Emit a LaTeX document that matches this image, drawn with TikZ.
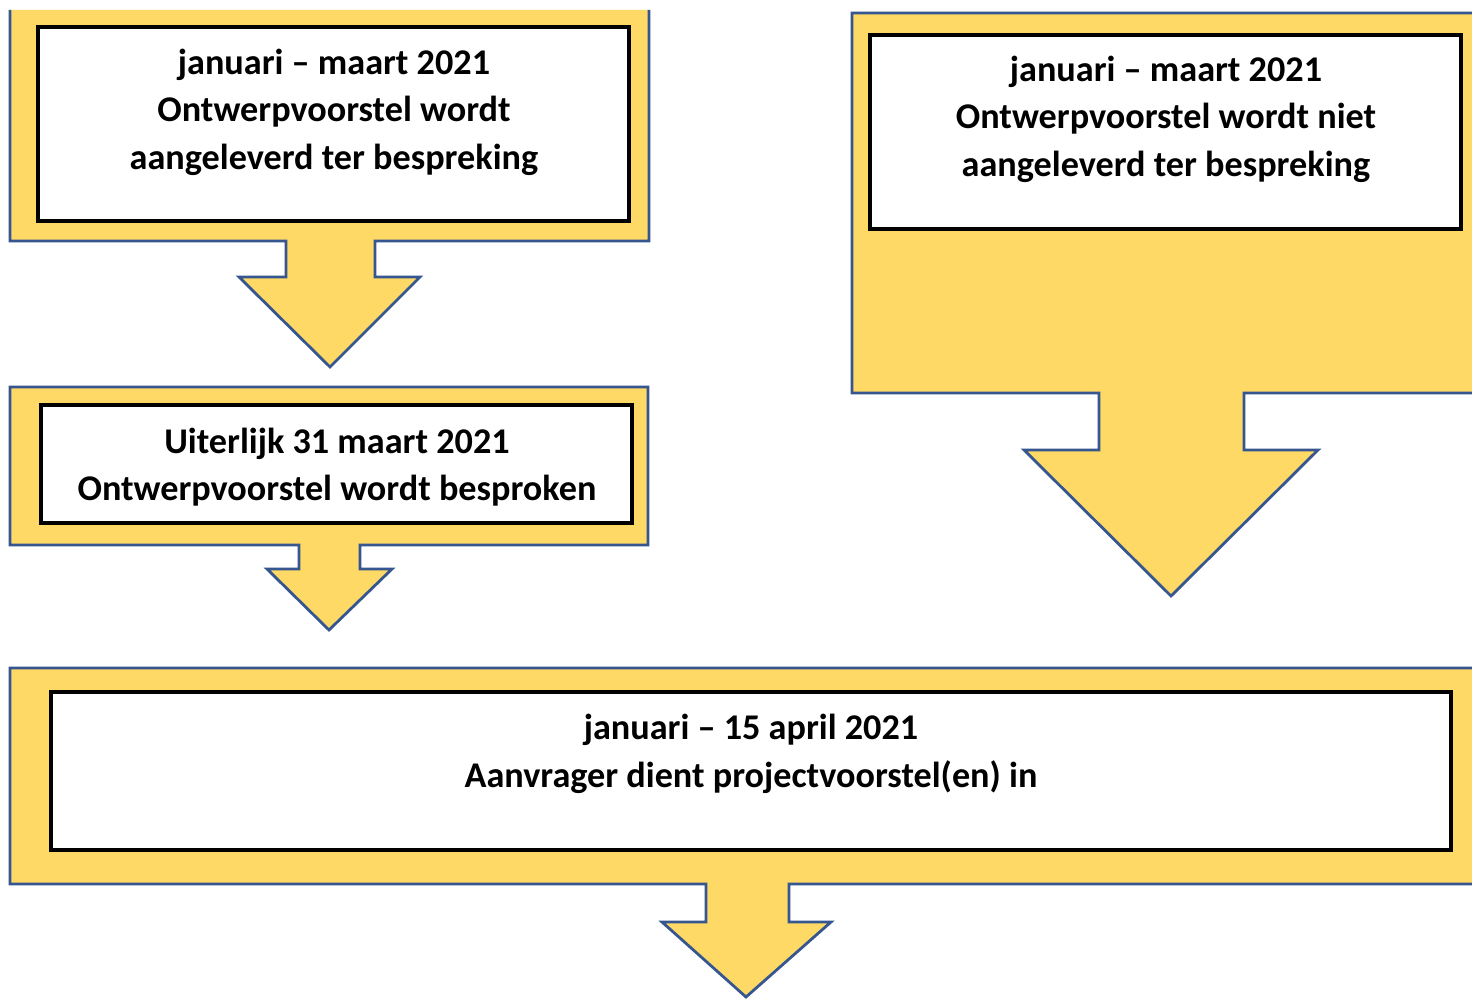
\documentclass[tikz,border=0pt]{standalone}
\usepackage{fontspec}
\setmainfont{Carlito}
\definecolor{cgold}{HTML}{FFD966}
\definecolor{cblue}{HTML}{35568F}
\begin{document}
\begin{tikzpicture}[x=0.5pt,y=-0.5pt]
\tikzset{
  calloutfill/.style={fill=cgold},
  calloutline/.style={draw=cblue,line width=1.4pt,line join=miter},
  innerbox/.style={draw=black,fill=white,line width=1.6pt},
  txt/.style={font=\bfseries\fontsize{18.1}{23.8}\selectfont,align=center,inner sep=0pt}
}
\useasboundingbox (0,0) rectangle (1472,999);
\clip (0,0) rectangle (1472,999);
% shape 1
\fill[calloutfill] (10,10) -- (649,10) -- (649,241) -- (375,241) -- (375,277) -- (420,277) -- (330,367) -- (239,277) -- (286,277) -- (286,241) -- (10,241) -- cycle;
\draw[calloutline] (10,10) -- (10,241) -- (286,241) -- (286,277) -- (239,277) -- (330,367) -- (420,277) -- (375,277) -- (375,241) -- (649,241) -- (649,10);
\draw[innerbox] (38,27) rectangle (629,221);
\node[txt] (t1) at (334,112) {januari – maart 2021\\Ontwerpvoorstel wordt\\aangeleverd ter bespreking};
% shape 2
\fill[calloutfill] (10,387) -- (648,387) -- (648,545) -- (360,545) -- (360,569) -- (392,569) -- (329,630) -- (267,569) -- (299,569) -- (299,545) -- (10,545) -- cycle;
\draw[calloutline] (10,387) -- (648,387) -- (648,545) -- (360,545) -- (360,569) -- (392,569) -- (329,630) -- (267,569) -- (299,569) -- (299,545) -- (10,545) -- cycle;
\draw[innerbox] (41,405) rectangle (632,523);
\node[txt] (t2) at (337,467) {Uiterlijk 31 maart 2021\\Ontwerpvoorstel wordt besproken};
% shape 3
\fill[calloutfill] (852,13) -- (1490,13) -- (1490,393) -- (1244,393) -- (1244,450) -- (1318,450) -- (1171,596) -- (1024,450) -- (1099,450) -- (1099,393) -- (852,393) -- cycle;
\draw[calloutline] (1490,13) -- (852,13) -- (852,393) -- (1099,393) -- (1099,450) -- (1024,450) -- (1171,596) -- (1318,450) -- (1244,450) -- (1244,393) -- (1490,393);
\draw[innerbox] (870,35) rectangle (1461,229);
\node[txt] (t3) at (1166,119) {januari – maart 2021\\Ontwerpvoorstel wordt niet\\aangeleverd ter bespreking};
% shape 4
\fill[calloutfill] (10,668) -- (1490,668) -- (1490,884) -- (789,884) -- (789,922) -- (831,922) -- (746,997) -- (662,922) -- (706,922) -- (706,884) -- (10,884) -- cycle;
\draw[calloutline] (1490,668) -- (10,668) -- (10,884) -- (706,884) -- (706,922) -- (662,922) -- (746,997) -- (831,922) -- (789,922) -- (789,884) -- (1490,884);
\draw[innerbox] (51,692) rectangle (1451,850);
\node[txt] (t4) at (751,754) {januari – 15 april 2021\\Aanvrager dient projectvoorstel(en) in};
\end{tikzpicture}
\end{document}
